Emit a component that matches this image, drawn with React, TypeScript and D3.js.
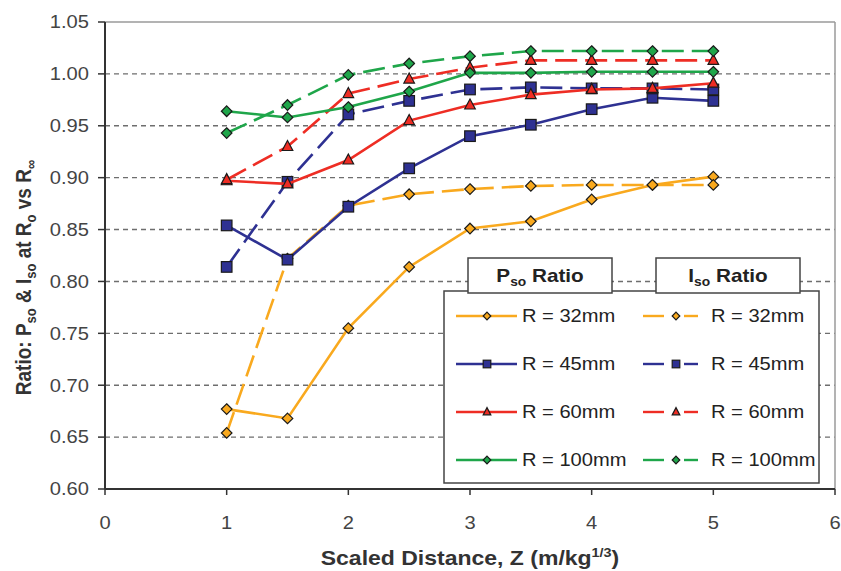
import * as d3 from "d3";

const W = 841;
const H = 571;
const M = { top: 22, right: 6, bottom: 82, left: 105 };
const FONT = "'Liberation Sans', Arial, sans-serif";
const STRETCH = 1.15; // the source picture is a bit wider than tall

// scaled distance Z (m/kg^1/3)
const zValues = [1, 1.5, 2, 2.5, 3, 3.5, 4, 4.5, 5];

// Pso ratio (solid lines)
const pso32 = [0.677, 0.668, 0.755, 0.814, 0.851, 0.858, 0.879, 0.893, 0.901];
const pso45 = [0.854, 0.821, 0.872, 0.909, 0.94, 0.951, 0.966, 0.977, 0.974];
const pso60 = [0.897, 0.894, 0.917, 0.955, 0.97, 0.98, 0.985, 0.986, 0.991];
const pso100 = [0.964, 0.958, 0.968, 0.983, 1.001, 1.001, 1.002, 1.002, 1.002];

// Iso ratio (dashed lines)
const iso32 = [0.654, 0.822, 0.873, 0.884, 0.889, 0.892, 0.893, 0.893, 0.893];
const iso45 = [0.814, 0.896, 0.961, 0.974, 0.985, 0.987, 0.986, 0.986, 0.985];
const iso60 = [0.898, 0.93, 0.981, 0.995, 1.006, 1.013, 1.013, 1.013, 1.013];
const iso100 = [0.943, 0.97, 0.999, 1.01, 1.017, 1.022, 1.022, 1.022, 1.022];

const radiusLabels = ["R = 32mm", "R = 45mm", "R = 60mm", "R = 100mm"];
const xTicks = [0, 1, 2, 3, 4, 5, 6];
const yTicks = [0.6, 0.65, 0.7, 0.75, 0.8, 0.85, 0.9, 0.95, 1.0, 1.05];

const colors = ["#F9A91E", "#2E3192", "#EE2D24", "#1FA64A"];
const markers = ["diamond", "square", "triangle", "diamond"];

const psoSets = [pso32, pso45, pso60, pso100];
const isoSets = [iso32, iso45, iso60, iso100];

type Series = { label: string; values: number[]; color: string; marker: string; dashed: boolean };

// drawn in Excel's series order: P32, I32, P45, I45, ...
const series: Series[] = [];
radiusLabels.forEach((label, i) => {
  series.push({ label, values: psoSets[i], color: colors[i], marker: markers[i], dashed: false });
  series.push({ label, values: isoSets[i], color: colors[i], marker: markers[i], dashed: true });
});

const Marker = ({ type, x, y, s, fill }: { type: string; x: number; y: number; s: number; fill: string }) => {
  const stroke = "#1a1a1a";
  if (type === "square")
    return <rect x={x - s} y={y - s} width={2 * s} height={2 * s} fill={fill} stroke={stroke} strokeWidth={1.2} />;
  if (type === "triangle")
    return (
      <path
        d={`M${x},${y - s * 1.15}L${x + s},${y + s * 0.75}L${x - s},${y + s * 0.75}Z`}
        fill={fill}
        stroke={stroke}
        strokeWidth={1.2}
      />
    );
  return (
    <path
      d={`M${x},${y - s}L${x + s},${y}L${x},${y + s}L${x - s},${y}Z`}
      fill={fill}
      stroke={stroke}
      strokeWidth={1.2}
    />
  );
};

// horizontally stretched text, anchored at (x, y)
const SText = ({ x, y, children, ...rest }: any) => (
  <text transform={`translate(${x},${y}) scale(${STRETCH},1)`} {...rest}>
    {children}
  </text>
);

export default function App() {
  const x = d3.scaleLinear().domain([0, 6]).range([M.left, W - M.right]);
  const y = d3.scaleLinear().domain([0.6, 1.05]).range([H - M.bottom, M.top]);
  const line = d3
    .line<number>()
    .x((_, i) => x(zValues[i]))
    .y((d) => y(d));

  const x0 = x(0);
  const x1 = x(6);
  const yBottom = y(0.6);
  const yTop = y(1.05);

  // legend layout
  const lg = { x: 444, y: 291, w: 375, h: 192 };
  const rowY = (i: number) => 316 + i * 48;

  return (
    <svg
      width={W}
      height={H}
      style={{ position: "absolute", left: 0, top: 0, background: "#fff", fontFamily: FONT }}
    >
      {/* grid */}
      {yTicks
        .filter((t) => t > 0.61 && t < 1.04)
        .map((t) => (
          <line key={t} x1={x0} x2={x1} y1={y(t)} y2={y(t)} stroke="#6e6e6e" strokeWidth={1.4} strokeDasharray="5,4" />
        ))}

      {/* frame */}
      <line x1={x0} x2={x1} y1={yTop} y2={yTop} stroke="#9a9a9a" strokeWidth={1.5} />
      <line x1={x1} x2={x1} y1={yTop} y2={yBottom} stroke="#9a9a9a" strokeWidth={1.5} />

      {/* series */}
      {series.map((s, k) => (
        <g key={k}>
          <path
            d={line(s.values) || ""}
            fill="none"
            stroke={s.color}
            strokeWidth={2.6}
            strokeDasharray={s.dashed ? "22,8" : undefined}
          />
          {s.values.map((v, i) => (
            <Marker key={i} type={s.marker} x={x(zValues[i])} y={y(v)} s={5.3} fill={s.color} />
          ))}
        </g>
      ))}

      {/* axes */}
      <line x1={x0} x2={x0} y1={yTop} y2={yBottom} stroke="#333" strokeWidth={2} />
      <line x1={x0} x2={x1} y1={yBottom} y2={yBottom} stroke="#333" strokeWidth={2} />
      {yTicks.map((t) => (
        <g key={t}>
          <line x1={x0 - 7} x2={x0} y1={y(t)} y2={y(t)} stroke="#333" strokeWidth={1.5} />
          <SText x={x0 - 16} y={y(t)} dy="0.36em" textAnchor="end" fontSize={17.5} fill="#444">
            {d3.format(".2f")(t)}
          </SText>
        </g>
      ))}
      {xTicks.map((t) => (
        <g key={t}>
          <line x1={x(t)} x2={x(t)} y1={yBottom} y2={yBottom + 6} stroke="#333" strokeWidth={1.5} />
          <SText x={x(t)} y={yBottom + 40} textAnchor="middle" fontSize={17.5} fill="#444">
            {t}
          </SText>
        </g>
      ))}

      {/* axis titles */}
      <text
        transform={`translate(31,${(yTop + yBottom) / 2 + 22}) rotate(-90) scale(1,${STRETCH})`}
        textAnchor="middle"
        fontSize={19}
        fontWeight="bold"
        fill="#333"
      >
        Ratio: P
        <tspan fontSize={13} dy={4}>so</tspan>
        <tspan dy={-4}> &amp; I</tspan>
        <tspan fontSize={13} dy={4}>so</tspan>
        <tspan dy={-4}> at R</tspan>
        <tspan fontSize={13} dy={4}>o</tspan>
        <tspan dy={-4}> vs R</tspan>
        <tspan fontSize={13} dy={4}>∞</tspan>
      </text>
      <SText x={(x0 + x1) / 2} y={565} textAnchor="middle" fontSize={20} fontWeight="bold" fill="#333">
        Scaled Distance, Z (m/kg
        <tspan fontSize={12.5} dy={-8}>1/3</tspan>
        <tspan dy={8}>)</tspan>
      </SText>

      {/* legend */}
      <rect x={lg.x} y={lg.y} width={lg.w} height={lg.h} fill="#fff" stroke="#444" strokeWidth={1.5} />
      {[
        { bx: 468, title: "P" },
        { bx: 656, title: "I" },
      ].map((h) => (
        <g key={h.title}>
          <rect x={h.bx} y={258} width={144} height={35} fill="#fff" stroke="#444" strokeWidth={1.5} />
          <SText x={h.bx + 72} y={282} textAnchor="middle" fontSize={18} fontWeight="bold" fill="#222">
            {h.title}
            <tspan fontSize={12} dy={4}>so</tspan>
            <tspan dy={-4}> Ratio</tspan>
          </SText>
        </g>
      ))}
      {radiusLabels.map((label, i) => (
        <g key={label}>
          <line x1={456} x2={517} y1={rowY(i)} y2={rowY(i)} stroke={colors[i]} strokeWidth={2.4} />
          <Marker type={markers[i]} x={487} y={rowY(i)} s={3.8} fill={colors[i]} />
          <SText x={522} y={rowY(i)} dy="0.36em" fontSize={17.5} fill="#222">
            {label}
          </SText>
          <line x1={643} x2={664} y1={rowY(i)} y2={rowY(i)} stroke={colors[i]} strokeWidth={2.4} />
          <line x1={684} x2={698} y1={rowY(i)} y2={rowY(i)} stroke={colors[i]} strokeWidth={2.4} />
          <Marker type={markers[i]} x={676} y={rowY(i)} s={3.8} fill={colors[i]} />
          <SText x={711} y={rowY(i)} dy="0.36em" fontSize={17.5} fill="#222">
            {label}
          </SText>
        </g>
      ))}
    </svg>
  );
}
